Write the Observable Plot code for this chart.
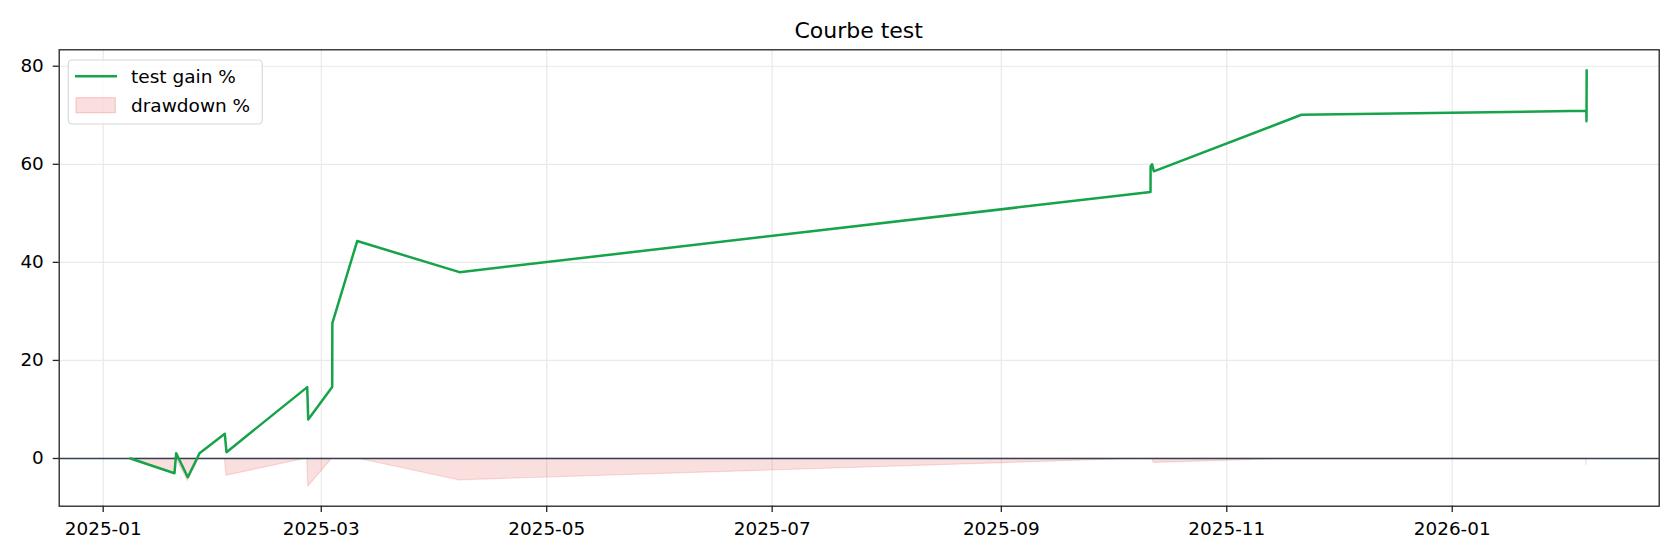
<!DOCTYPE html>
<html><head><meta charset="utf-8">
<script src="https://cdn.jsdelivr.net/npm/d3@7"></script>
<script src="https://cdn.jsdelivr.net/npm/@observablehq/plot@0.6"></script>
<style>
html,body{margin:0;padding:0;background:#fff;overflow:hidden;}
#title{position:relative;height:40px;width:1680px;font-family:"DejaVu Sans";}
#title span{position:absolute;left:858.7px;top:19.7px;transform:translateX(-50%);white-space:nowrap;font-size:22px;line-height:22px;color:#000;}
</style></head><body>
<div id="title"><span>Courbe test</span></div>
<div id="chart"></div>
<script>
// Data
const dates = [
  "2025-01-08T09:20", "2025-01-20T07:00", "2025-01-20T18:00", "2025-01-23T21:20",
  "2025-01-27T01:30", "2025-02-02T21:40", "2025-02-03T08:40", "2025-02-25T04:50",
  "2025-02-25T11:20", "2025-03-03T23:00", "2025-03-04T00:00", "2025-03-10T17:20",
  "2025-04-07T09:40", "2025-10-11T08:50", "2025-10-11T09:30", "2025-10-11T19:00",
  "2025-10-12T06:00", "2025-11-21T05:00", "2026-02-06T07:00", "2026-02-06T08:00",
  "2026-02-06T09:00"
];
const gain = [
  0, -3.0, 1.08, -3.82,
  1.08, 5.04, 1.29, 14.55,
  7.96, 14.6, 27.6, 44.35,
  38.0, 54.35, 59.6, 60.0,
  58.57, 70.1, 70.9, 68.8,
  79.2
];
const drawdown = [
  0, -3.0, 0, -4.6,
  0, 0, -3.5, 0,
  -5.75, 0, 0, 0,
  -4.45, 0, 0, 0,
  -0.9, 0, 0, -1.3,
  0
];
const xTickDates = ["2025-01-01", "2025-03-01", "2025-05-01", "2025-07-01", "2025-09-01", "2025-11-01", "2026-01-01"];
const yTicks = [0, 20, 40, 60, 80];
const seriesLabels = ["test gain %", "drawdown %"];
const titleText = "Courbe test";

const rows = dates.map((d, i) => ({date: new Date(d + "Z"), gain: gain[i], dd: drawdown[i]}));
const xTicks = xTickDates.map(d => new Date(d + "T00:00Z"));

const GREEN = "#16a34a";
const RED = "#dc2626";
const GRID = "#e9e9e9";
const SPINE = "#222";

const chart = Plot.plot({
  width: 1680,
  height: 520,
  marginTop: 9.3,
  marginRight: 21.3,
  marginBottom: 54.3,
  marginLeft: 58.7,
  style: {fontFamily: "DejaVu Sans", fontSize: "18.4px", color: "#000", background: "#fff", overflow: "visible"},
  x: {type: "utc", domain: [new Date("2024-12-20T02:17Z"), new Date("2026-02-26T00:00Z")]},
  y: {domain: [-9.73, 83.35]},
  marks: [
    Plot.gridX(xTicks, {stroke: GRID, strokeOpacity: 1, strokeWidth: 1.2}),
    Plot.gridY(yTicks, {stroke: GRID, strokeOpacity: 1, strokeWidth: 1.2}),
    Plot.areaY(rows, {x: "date", y1: 0, y2: "dd", fill: RED, fillOpacity: 0.15, stroke: RED, strokeOpacity: 0.15, strokeWidth: 1.2}),
    Plot.ruleY([0], {stroke: "#334155", strokeWidth: 1.6}),
    Plot.lineY(rows, {x: "date", y: "gain", stroke: GREEN, strokeWidth: 2.5}),
    Plot.axisX(xTicks, {tickSize: 6.3, tickPadding: 9, tickFormat: d3.utcFormat("%Y-%m"), stroke: SPINE, strokeWidth: 1.3, label: null, fill: "#000"}),
    Plot.axisY(yTicks, {tickSize: 6, tickPadding: 9.4, label: null, stroke: SPINE, strokeWidth: 1.3, fill: "#000"}),
    Plot.frame({stroke: SPINE, strokeWidth: 1.3})
  ]
});
document.getElementById("chart").appendChild(chart);

// Legend (top-left inside the plot)
const svg = d3.select(chart);
const lg = svg.append("g").attr("font-family", "DejaVu Sans").attr("font-size", "18.5px").attr("text-anchor", "start");
lg.append("rect").attr("x", 68.3).attr("y", 20).attr("width", 194).attr("height", 64).attr("rx", 4)
  .attr("fill", "#fff").attr("fill-opacity", 0.8).attr("stroke", "#d6d6d6").attr("stroke-width", 1.1);
lg.append("line").attr("x1", 75).attr("x2", 117).attr("y1", 36.3).attr("y2", 36.3)
  .attr("stroke", GREEN).attr("stroke-width", 2.5);
lg.append("text").attr("x", 131).attr("y", 42.7).attr("fill", "#000").attr("text-anchor", "start").text(seriesLabels[0]);
lg.append("rect").attr("x", 76).attr("y", 57.7).attr("width", 39.3).attr("height", 15)
  .attr("fill", RED).attr("fill-opacity", 0.15).attr("stroke", RED).attr("stroke-opacity", 0.2).attr("stroke-width", 1.2);
lg.append("text").attr("x", 131).attr("y", 72.3).attr("fill", "#000").attr("text-anchor", "start").text(seriesLabels[1]);
</script>
</body></html>
